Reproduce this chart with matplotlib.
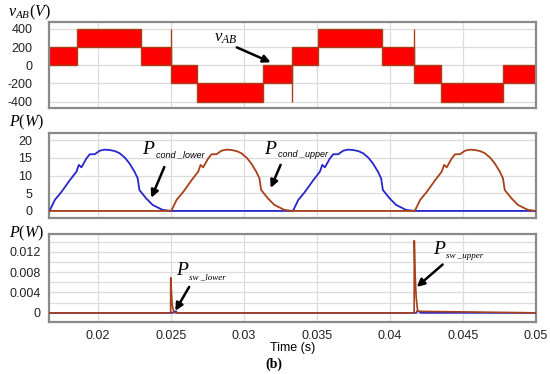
import numpy as np
import matplotlib
matplotlib.use("Agg")
import matplotlib.pyplot as plt

# ---------------- data ----------------
# Panel 1: five-level output voltage v_AB (PWM bands between adjacent levels)
v_edges = [1/60, 0.01857, 0.02299, 0.02500, 0.02680, 0.03129, 0.03333,
           0.03510, 0.03946, 0.04167, 0.04350, 0.04776, 0.05]
v_low = [0, 200, 0, -200, -400, -200, 0, 200, 0, -200, -400, -200]
v_high = [200, 400, 200, 0, -200, 0, 200, 400, 200, 0, -200, 0]
spike_t = [0.02500, 0.03333, 0.04167]
spike_from = [0, 0, 0]
spike_to = [400, -400, 400]

# Panel 2: conduction loss hump (time from hump start, power W)
hump_phase = [0, 0.00007, 0.00040, 0.00086, 0.00143, 0.00188, 0.00204, 0.00222,
              0.00256, 0.00279, 0.00313, 0.00347, 0.00380, 0.00415, 0.00450,
              0.00483, 0.00520, 0.00551, 0.00585, 0.00607, 0.00619, 0.00664,
              0.00709, 0.00777, 0.00833]
hump_power = [0, 0.3, 3.1, 5.4, 8.7, 11.1, 13.0, 12.3, 14.8, 16.0, 16.0, 17.0,
              17.3, 17.2, 16.9, 16.3, 15.0, 13.4, 11.1, 9.2, 5.9, 3.6, 1.7, 0.3, 0]
lower_starts = [1/60, 0.03333]
upper_starts = [0.02500, 0.04167]
t_start, t_end = 1/60, 0.05

# Panel 3: switching loss spikes
sw_upper_t = [1/60, 0.02499, 0.02500, 0.02505, 0.02510, 0.02520, 0.02530,
              0.04166, 0.04167, 0.04172, 0.04180, 0.04190, 0.05]
sw_upper_p = [0, 0, 0.0069, 0.0040, 0.0015, 0.0003, 0,
              0, 0.0142, 0.0080, 0.0030, 0.0003, 0]
sw_lower_t = [1/60, 0.02515, 0.02520, 0.02535, 0.02545, 0.04180, 0.04185,
              0.04200, 0.04210, 0.05]
sw_lower_p = [0, 0, 0.0003, 0.0003, 0, 0, 0.0003, 0.0003, 0, 0]

xticks = [0.02, 0.025, 0.03, 0.035, 0.04, 0.045, 0.05]
xticklabels = ["0.02", "0.025", "0.03", "0.035", "0.04", "0.045", "0.05"]
yticks1 = [-400, -200, 0, 200, 400]
yticks2 = [0, 5, 10, 15, 20]
yticks3 = [0, 0.004, 0.008, 0.012]
yticklabels3 = ["0", "0.004", "0.008", "0.012"]

# ---------------- style ----------------
plt.rcParams['font.family'] = ['Liberation Sans', 'DejaVu Sans']
plt.rcParams['mathtext.fontset'] = 'custom'
plt.rcParams['mathtext.rm'] = 'Liberation Serif'
plt.rcParams['mathtext.it'] = 'Liberation Serif:italic'

RED = '#ff0000'
BROWN = '#a8401a'
BLUE = '#2626cc'
GRID = '#dcdcdc'
SPINE = '#8a8a8a'

W, H = 550, 374
fig = plt.figure(figsize=(5.5, 3.74), dpi=100)

def ax_at(top, bottom, left=49, right=536):
    return fig.add_axes([left / W, 1 - bottom / H, (right - left) / W, (bottom - top) / H])

ax1 = ax_at(22, 108)
ax2 = ax_at(133, 218)
ax3 = ax_at(234, 322)

for ax in (ax1, ax2, ax3):
    ax.set_xlim(t_start, t_end)
    ax.set_xticks(xticks)
    ax.tick_params(length=0, labelsize=9, colors='#222222')
    for s in ax.spines.values():
        s.set_color(SPINE)
        s.set_linewidth(1.6)
    ax.grid(True, axis='x', color=GRID, lw=0.9)
    ax.set_axisbelow(True)

# Panel 1
e = np.array(v_edges)
lo = np.array(v_low)
hi = np.array(v_high)
ax1.bar(e[:-1], hi - lo, width=np.diff(e), bottom=lo, align='edge',
        color=RED, edgecolor=BROWN, linewidth=1.0, zorder=2)
ax1.vlines(spike_t, spike_from, spike_to, color=BROWN, lw=1.0, zorder=3)
ax1.set_ylim(-470, 476)
ax1.set_yticks(yticks1)
ax1.set_yticklabels([str(v) for v in yticks1])
ax1.grid(True, axis='y', color=GRID, lw=0.9)
ax1.tick_params(axis='x', labelbottom=False)
ax1.tick_params(axis='y', pad=12)
arrow = dict(arrowstyle='-|>', color='black', lw=1.8, mutation_scale=11, shrinkA=0, shrinkB=0)
ax1.annotate('', xy=(0.03184, 33), xytext=(0.02952, 197), arrowprops=arrow, zorder=5)
ax1.text(0.02795, 300, r'$v_{AB}$', fontsize=12, ha='left', va='center')

# Panel 2
hp = np.array(hump_phase)
hv = np.array(hump_power)

def build(starts):
    t = [t_start]
    p = [0.0]
    for s in starts:
        t.extend(list(s + hp))
        p.extend(list(hv))
    t.append(t_end)
    p.append(0.0)
    return np.array(t), np.array(p)

tl, pl = build(lower_starts)
tu, pu = build(upper_starts)
ax2.plot(tl, pl, color=BLUE, lw=1.3, zorder=3)
ax2.plot(tu, pu, color=BROWN, lw=1.3, zorder=3)
ax2.set_ylim(-2, 22)
ax2.set_yticks(yticks2)
ax2.set_yticklabels([str(v) for v in yticks2])
ax2.grid(True, axis='y', color=GRID, lw=0.9)
ax2.tick_params(axis='x', labelbottom=False)
ax2.tick_params(axis='y', pad=12)
ax2.annotate('', xy=(0.02367, 3.7), xytext=(0.02456, 12.4), arrowprops=arrow, zorder=5)
ax2.annotate('', xy=(0.03184, 6.5), xytext=(0.03252, 13.0), arrowprops=arrow, zorder=5)
ax2.text(0.02303, 17.2, r'$P$', fontsize=14, ha='left', va='center')
ax2.text(0.02400, 15.9, 'cond _lower', fontsize=6.5, style='italic', ha='left', va='center')
ax2.text(0.03136, 17.2, r'$P$', fontsize=14, ha='left', va='center')
ax2.text(0.03233, 15.9, 'cond _upper', fontsize=6.5, style='italic', ha='left', va='center')

# Panel 3
ax3.plot(sw_lower_t, sw_lower_p, color=BLUE, lw=1.2, zorder=3)
ax3.plot(sw_upper_t, sw_upper_p, color=BROWN, lw=1.2, zorder=4)
ax3.set_ylim(-0.0018, 0.0155)
ax3.set_yticks(yticks3)
ax3.set_yticklabels(yticklabels3)
ax3.set_yticks(np.arange(0.002, 0.0150, 0.002), minor=True)
ax3.tick_params(which='minor', length=0)
ax3.grid(True, axis='y', which='both', color=GRID, lw=0.9)
ax3.set_xticklabels(xticklabels)
ax3.tick_params(axis='x', pad=6)
ax3.tick_params(axis='y', pad=6)
ax3.annotate('', xy=(0.02531, 0.0004), xytext=(0.02626, 0.0051), arrowprops=arrow, zorder=5)
ax3.annotate('', xy=(0.04184, 0.0051), xytext=(0.04361, 0.0095), arrowprops=arrow, zorder=5)
ax3.text(0.02535, 0.0083, r'$P$', fontsize=14, ha='left', va='center')
ax3.text(0.02625, 0.0070, 'sw _lower', fontsize=6.5, style='italic', ha='left', va='center',
         family='Liberation Serif')
ax3.text(0.04292, 0.0124, r'$P$', fontsize=14, ha='left', va='center')
ax3.text(0.04382, 0.0111, 'sw _upper', fontsize=6.5, style='italic', ha='left', va='center',
         family='Liberation Serif')

# axis titles
fig.text(8 / W, 1 - 12 / H, r'$v_{AB}(V)$', fontsize=11.5, ha='left', va='center')
fig.text(9 / W, 1 - 122 / H, r'$P(W)$', fontsize=11.5, ha='left', va='center')
fig.text(9 / W, 1 - 233 / H, r'$P(W)$', fontsize=11.5, ha='left', va='center')
fig.text(270 / W, 1 - 348 / H, 'Time (s)', fontsize=9, ha='left', va='center')
fig.text(265 / W, 1 - 364 / H, '(b)', fontsize=10, ha='left', va='center',
         family='Liberation Serif', weight='bold')

fig.savefig('out.png', dpi=100)
